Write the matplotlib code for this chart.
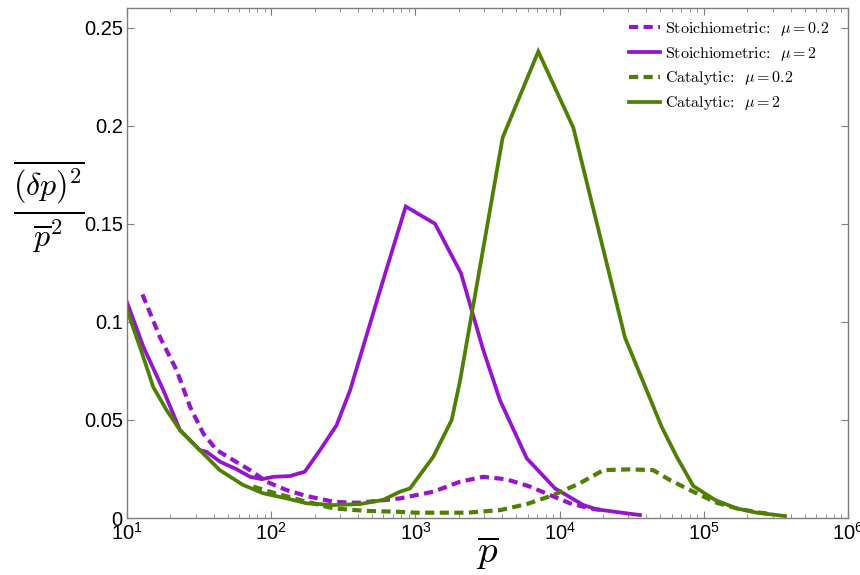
import matplotlib
matplotlib.use("Agg")
import matplotlib.pyplot as plt
from matplotlib.ticker import FixedLocator, FixedFormatter, LogLocator, NullFormatter

plt.rcParams['font.family'] = ['Liberation Sans', 'DejaVu Sans']
plt.rcParams['mathtext.fontset'] = 'cm'

# Stoichiometric, mu = 0.2 (dashed purple)
st02_x = [12.8, 16.9, 22.1, 27.4, 33.8, 41.9, 54.6, 71.3, 93, 128, 176, 270, 352, 413, 782,
          1330, 2040, 2960, 4290, 6240, 8580, 11800, 16200, 20000]
st02_y = [0.114, 0.0923, 0.0753, 0.0566, 0.0431, 0.0346, 0.0295, 0.0244, 0.0185, 0.0142, 0.0112,
          0.0083, 0.0078, 0.0078, 0.010, 0.0134, 0.0185, 0.021, 0.0197, 0.016, 0.0117, 0.0075,
          0.0049, 0.0040]

# Stoichiometric, mu = 2 (solid purple)
st2_x = [10, 13.0, 17.9, 23.3, 32, 35.7, 44.2, 57.7, 71.3, 86, 103.5, 135, 171, 218, 284, 352,
         413, 596, 857, 1368, 2070, 2945, 3860, 5920, 9290, 14600, 18070, 36100]
st2_y = [0.110, 0.0872, 0.065, 0.0448, 0.0346, 0.0337, 0.0287, 0.0248, 0.021, 0.0198, 0.021,
         0.0214, 0.0236, 0.0346, 0.0473, 0.065, 0.082, 0.121, 0.1588, 0.150, 0.1248, 0.086,
         0.060, 0.0304, 0.0151, 0.0066, 0.0044, 0.0015]

# Catalytic, mu = 0.2 (dashed green)
ca02_x = [75, 103.5, 158, 270, 459, 741, 1020, 2270, 3860, 5920, 9060, 13800, 20100, 30800,
          44600, 58300, 84600, 122700, 169000, 245000, 300000]
ca02_y = [0.016, 0.0129, 0.0092, 0.0049, 0.0036, 0.0032, 0.0027, 0.0027, 0.0040, 0.0071,
          0.0117, 0.0177, 0.0244, 0.0248, 0.0244, 0.0193, 0.0134, 0.0078, 0.0049, 0.0027, 0.0020]

# Catalytic, mu = 2 (solid green)
ca2_x = [10, 12.3, 15.2, 18.8, 23.3, 32, 44, 64, 88, 128, 176, 270, 413, 596, 782, 918, 1330,
         1786, 2040, 4030, 7115, 12450, 28400, 51000, 64900, 84600, 119600, 169000, 233000,
         366000]
ca2_y = [0.106, 0.0872, 0.0668, 0.055, 0.0448, 0.0346, 0.0244, 0.0168, 0.0126, 0.010, 0.0075,
         0.0066, 0.0071, 0.0092, 0.0134, 0.0151, 0.0312, 0.050, 0.070, 0.194, 0.2378, 0.199,
         0.092, 0.0465, 0.0312, 0.0163, 0.0092, 0.0049, 0.0027, 0.0010]

labels = [r'Stoichiometric:  $\mu = 0.2$',
          r'Stoichiometric:  $\mu = 2$',
          r'Catalytic:  $\mu = 0.2$',
          r'Catalytic:  $\mu = 2$']
yticks = [0, 0.05, 0.1, 0.15, 0.2, 0.25]
ytick_labels = ['0', '0.05', '0.1', '0.15', '0.2', '0.25']

purple = '#9614CC'
green = '#4F8005'

fig = plt.figure(figsize=(8.6, 5.75), dpi=100)
ax = fig.add_axes([127/860, 1-518/575, (848-127)/860, (518-8)/575])

ax.plot(st02_x, st02_y, color=purple, lw=3.0, dashes=(2.2, 1.3), dash_capstyle='butt', label=labels[0])
ax.plot(st2_x, st2_y, color=purple, lw=2.7, label=labels[1], solid_joinstyle='miter')
ax.plot(ca02_x, ca02_y, color=green, lw=3.0, dashes=(2.2, 1.3), dash_capstyle='butt', label=labels[2])
ax.plot(ca2_x, ca2_y, color=green, lw=2.7, label=labels[3], solid_joinstyle='miter')

ax.set_xscale('log')
ax.set_xlim(10, 1e6)
ax.set_ylim(0, 0.26)
ax.xaxis.set_major_locator(LogLocator(base=10, numticks=10))
ax.xaxis.set_minor_locator(LogLocator(base=10, subs=range(2, 10), numticks=20))
ax.xaxis.set_minor_formatter(NullFormatter())
ax.yaxis.set_major_locator(FixedLocator(yticks))
ax.yaxis.set_major_formatter(FixedFormatter(ytick_labels))

for s in ax.spines.values():
    s.set_color('#7f7f7f')
    s.set_linewidth(1.0)
ax.tick_params(which='both', direction='in', top=True, right=True, color='#7f7f7f',
               labelsize=14.5, labelcolor='black')
ax.tick_params(which='major', length=5, width=0.8, pad=3)
ax.tick_params(which='minor', length=3, width=0.6)

leg = ax.legend(loc='upper left', bbox_to_anchor=((626-127)/721 - 0.012, 1.0), frameon=False,
                prop={'family': 'cmr10', 'size': 11.5},
                handlelength=1.9, handletextpad=0.35, labelspacing=0.42, borderaxespad=0.35)

fig.text(49/860, 1-207/575, r'$\frac{\overline{(\delta p)^2}}{\overline{p}^2}$',
         ha='center', va='center', fontsize=33)
fig.text(487/860, 1-553/575, r'$\overline{p}$', ha='center', va='center', fontsize=28)

fig.savefig('out.png', dpi=100)
